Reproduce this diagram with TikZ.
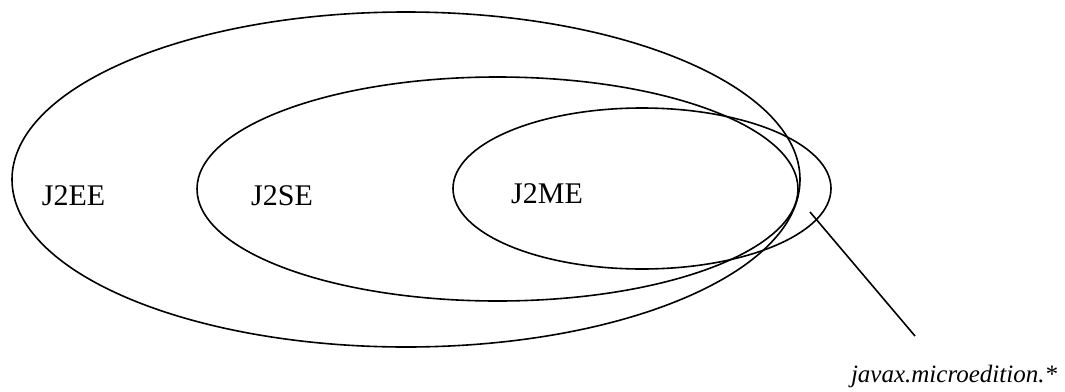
\documentclass[tikz,border=0pt]{standalone}
\usepackage{fontspec}
\setmainfont{Liberation Serif}
\usetikzlibrary{shapes.geometric}
\begin{document}
\begin{tikzpicture}[x=1pt,y=-1pt,
  set/.style={draw,ellipse,line width=1.6pt,inner sep=0pt},
  lbl/.style={font=\fontsize{30}{30}\selectfont,inner sep=0pt,anchor=base}]
\useasboundingbox (0,0) rectangle (1065,391);
\node[set,minimum width=788pt,minimum height=335pt] (ee) at (406,179.5) {};
\node[set,minimum width=601pt,minimum height=224pt] (se) at (497.5,189) {};
\node[set,minimum width=378pt,minimum height=161pt] (me) at (642,188.5) {};
\node[lbl] (tee) at (73.5,205) {J2EE};
\node[lbl] (tse) at (282,205) {J2SE};
\node[lbl] (tme) at (547,203) {J2ME};
\node[font=\fontsize{25}{26}\itshape,inner sep=0pt,anchor=base] (pkg) at (954,382) {javax.microedition.*};
\coordinate (p1) at (810,212);
\coordinate (p2) at (915,336);
\draw[line width=1.6pt] (p1) -- (p2);
\end{tikzpicture}
\end{document}
